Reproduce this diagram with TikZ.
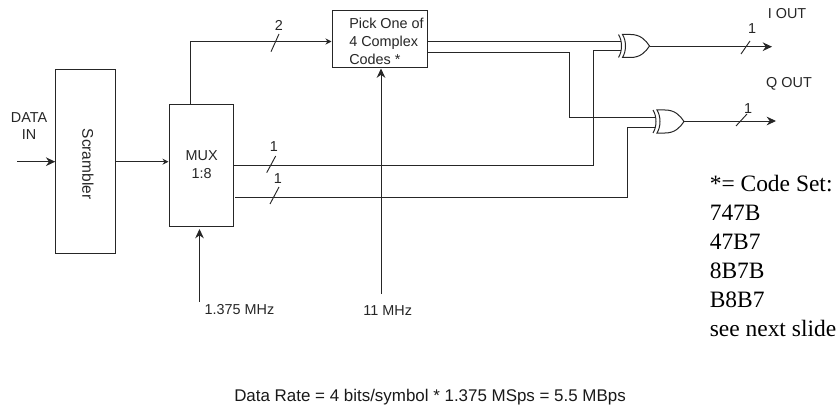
\documentclass[tikz,border=0pt]{standalone}
\usepackage{fontspec}
\setmainfont{Liberation Sans}
\newfontfamily\serifface{Liberation Serif}
\usetikzlibrary{arrows.meta,calc}
\tikzset{
  px/.style={x=0.75pt,y=-0.75pt},
  blockbox/.style={draw=black!85,line width=0.75pt,fill=white,inner sep=0pt},
  wire/.style={draw=black!85,line width=0.75pt},
  flow/.style={wire,-{Stealth[length=7pt,width=6.5pt]}},
  smallflow/.style={wire,-{Stealth[length=4.5pt,width=4.5pt]}},
  lbl/.style={font=\fontsize{10.8pt}{13.4pt}\selectfont,inner sep=0pt,align=center,text=black!85},
  bigl/.style={font=\fontsize{12.7pt}{15pt}\selectfont,inner sep=0pt,align=center,text=black!90},
  notetext/.style={font=\serifface\fontsize{17.6pt}{21.75pt}\selectfont,inner sep=0pt,align=left,anchor=north west,text=black},
  slash/.style={draw=black!85,line width=0.7pt}
}
\newcommand{\xorgate}[2]{%
  \begin{scope}[shift={#2}]
    \draw[wire,fill=white] (0,-11.5) -- (8,-11.5) .. controls (18,-11.5) and (23,-6) .. (27,0)
       .. controls (23,6) and (18,11.5) .. (8,11.5) -- (0,11.5) .. controls (4,5) and (4,-5) .. (0,-11.5) -- cycle;
    \draw[wire] (-4,-11.5) .. controls (0,-5) and (0,5) .. (-4,11.5);
    \coordinate (#1-a) at (-2,-5);
    \coordinate (#1-b) at (-2,5);
    \coordinate (#1-o) at (27,0);
  \end{scope}}
\begin{document}
\begin{tikzpicture}[px]
\useasboundingbox (0,0) rectangle (839,410);
\node[blockbox,minimum width=59.5*0.75pt,minimum height=183*0.75pt] (scr) at (85.5,161.5) {};
\node[lbl,rotate=-90,font=\fontsize{11.6pt}{13.4pt}\selectfont] (scrt) at (88,164) {Scrambler};
\node[blockbox,minimum width=64*0.75pt,minimum height=121.5*0.75pt] (mux) at (201,165.4) {};
\node[lbl] (muxt) at (201.7,165) {MUX\\1:8};
\node[blockbox,minimum width=95*0.75pt,minimum height=57*0.75pt] (pick) at (379.5,39.5) {};
\node[lbl,align=left,anchor=west] (pickt) at (349,41.5) {Pick One of\\4 Complex\\Codes *};
\xorgate{xa}{(622.5,46)}
\xorgate{xb}{(657,121.5)}
\node[lbl] (din) at (29,126) {DATA\\IN};
\coordinate (dinS) at (17,161.7);
\draw[flow] (dinS) -- (dinS -| scr.west);
\coordinate (s) at (scr.east |- 0,161.7);
\draw[smallflow] (s) -- (mux.west |- s);
\coordinate (m2) at (190.7,104.7);
\coordinate (c1) at (190.7,41.5);
\draw[smallflow] (m2) -- (c1) -- (pick.west |- c1);
\node[lbl] (r1) at (239.5,310) {1.375 MHz};
\coordinate (f1) at (199.5,301.7);
\draw[flow] (f1) -- (199.5,229);
\node[lbl] (r2) at (387.7,311) {11 MHz};
\coordinate (f2) at (381,294);
\draw[flow] (f2) -- (pick.south -| f2);
\draw[wire] (pick.east |- 0,41.7) -- (xa-a |- 0,41.7);
\draw[wire] (pick.east |- 0,52.3) -- (569.3,52.3) -- (569.3,117) -- (xb-a |- 0,117);
\draw[wire] (mux.east |- 0,165) -- (593.7,165) -- (593.7,51) -- (xa-b |- 0,51);
\draw[wire] (235,197.7) -- (627.7,197.7) -- (627.7,127) -- (xb-b |- 0,127);
\coordinate (oa) at (772,46.7);
\coordinate (ob) at (776,121);
\draw[flow] (xa-o |- oa) -- (oa);
\draw[flow] (xb-o |- ob) -- (ob);
\draw[slash] (266.7,172.7) -- (275.7,156);
\draw[slash] (270,204) -- (279,187);
\draw[slash] (271,51.7) -- (279,34);
\draw[slash] (741,54) -- (750,41);
\draw[slash] (736,126) -- (747,114);
\node[lbl] at (279,25.7) {2};
\node[lbl] at (274,147) {1};
\node[lbl] at (278,179) {1};
\node[lbl] at (752,29) {1};
\node[lbl] at (748,109) {1};
\node[lbl] at (787,14) {I OUT};
\node[lbl] at (789,84) {Q OUT};
\node[notetext] (note) at (709.5,174.5) {*= Code Set:\\747B\\47B7\\8B7B\\B8B7\\see next slide};
\node[bigl,anchor=west] (rate) at (234,396.7) {Data Rate = 4 bits/symbol * 1.375 MSps = 5.5 MBps};
\end{tikzpicture}
\end{document}
